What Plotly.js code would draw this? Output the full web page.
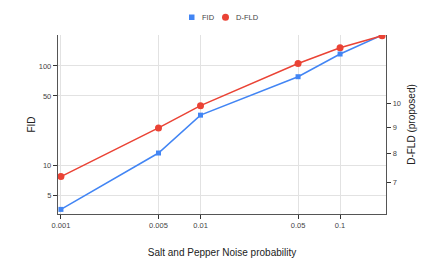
<!DOCTYPE html>
<html>
<head>
<meta charset="utf-8">
<script src="https://cdn.plot.ly/plotly-3.0.1.min.js"></script>
<style>html,body{margin:0;padding:0;background:#fff;}#chart{width:444px;height:271px;}</style>
</head>
<body>
<div id="chart"></div>
<script>
const noiseProb = [0.001, 0.005, 0.01, 0.05, 0.1, 0.2];
const fidValues = [3.6, 13.3, 32, 78, 132, 205];
const dfldValues = [7.2, 8.97, 9.92, 12.0, 12.88, 13.6];
const xTickVals = [0.001, 0.005, 0.01, 0.05, 0.1];
const xTickText = ['0.001', '0.005', '0.01', '0.05', '0.1'];
const leftTickVals = [5, 10, 50, 100];
const rightTickVals = [7, 8, 9, 10];
const seriesNames = ['FID', 'D-FLD'];

const blue = '#4285F4', red = '#EA4335';
const font = 'Arial, "Liberation Sans", sans-serif';

const traces = [
  {x: noiseProb, y: fidValues, name: seriesNames[0], type: 'scatter', mode: 'lines+markers',
   line: {color: blue, width: 1.5}, marker: {color: blue, symbol: 'square', size: 5}, yaxis: 'y', showlegend: false},
  {x: noiseProb, y: dfldValues, name: seriesNames[1], type: 'scatter', mode: 'lines+markers',
   line: {color: red, width: 1.5}, marker: {color: red, symbol: 'circle', size: 7}, yaxis: 'y2', showlegend: false}
];

const layout = {
  width: 444, height: 271,
  margin: {l: 58, r: 58, t: 35, b: 57},
  paper_bgcolor: '#fff', plot_bgcolor: '#fff',
  font: {family: font, color: '#444', size: 8},
  showlegend: false,
  xaxis: {
    type: 'log', range: [-3.021, -0.671],
    tickvals: xTickVals, ticktext: xTickText,
    showgrid: true, gridcolor: '#e2e2e2', gridwidth: 1,
    showline: true, linecolor: '#555', linewidth: 1.2, mirror: false,
    ticks: 'outside', ticklen: 4, tickcolor: '#333', tickwidth: 1,
    tickfont: {size: 7.5, color: '#444'},
    zeroline: false,
    automargin: true,
    title: {text: 'Salt and Pepper Noise probability', font: {size: 10, color: '#222'}, standoff: 19}
  },
  yaxis: {
    type: 'log', range: [0.51, 2.312],
    tickvals: leftTickVals, ticktext: leftTickVals.map(String),
    showgrid: true, gridcolor: '#e2e2e2', gridwidth: 1,
    showline: true, linecolor: '#555', linewidth: 1.2,
    ticks: 'outside', ticklen: 4, tickcolor: '#333', tickwidth: 1,
    tickfont: {size: 7.5, color: '#444'},
    zeroline: false,
    automargin: true,
    title: {text: 'FID', font: {size: 10, color: '#222'}, standoff: 1}
  },
  yaxis2: {
    type: 'log', range: [0.784, 1.135], overlaying: 'y', side: 'right',
    tickvals: rightTickVals, ticktext: rightTickVals.map(String),
    showgrid: false,
    showline: true, linecolor: '#555', linewidth: 1.2,
    ticks: 'outside', ticklen: 4, tickcolor: '#333', tickwidth: 1,
    tickfont: {size: 7.5, color: '#444'},
    zeroline: false,
    automargin: true,
    title: {text: 'D-FLD (proposed)', font: {size: 10, color: '#222'}, standoff: 8}
  }
};

// Custom compact legend (symbol + label), positioned in pixels converted to paper coords
const plotW = 444 - 58 - 58, plotH = 271 - 35 - 57;
function px2x(px) { return (px - 58) / plotW; }
function py2y(py) { return (271 - 57 - py) / plotH; }
layout.shapes = [
  {type: 'rect', xref: 'paper', yref: 'paper', x0: px2x(189), x1: px2x(194.5), y0: py2y(20), y1: py2y(14.5),
   fillcolor: blue, line: {width: 0}},
  {type: 'circle', xref: 'paper', yref: 'paper', x0: px2x(222), x1: px2x(229), y0: py2y(20.8), y1: py2y(13.8),
   fillcolor: red, line: {width: 0}}
];
layout.annotations = [
  {text: seriesNames[0], xref: 'paper', yref: 'paper', x: px2x(199.5), y: py2y(17.3), xanchor: 'left', yanchor: 'middle',
   showarrow: false, font: {size: 7.5, color: '#444'}},
  {text: seriesNames[1], xref: 'paper', yref: 'paper', x: px2x(233.5), y: py2y(17.3), xanchor: 'left', yanchor: 'middle',
   showarrow: false, font: {size: 7.5, color: '#444'}}
];

Plotly.newPlot('chart', traces, layout, {displayModeBar: false, staticPlot: true});
</script>
</body>
</html>
